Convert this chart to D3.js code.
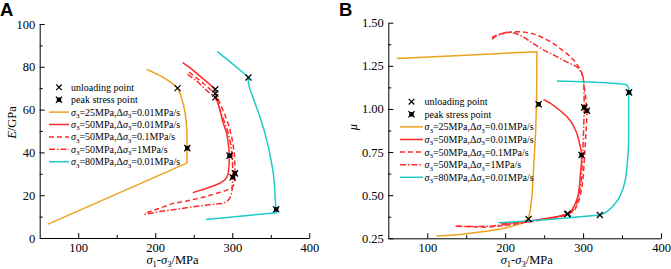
<!DOCTYPE html>
<html>
<head>
<meta charset="utf-8">
<script src="https://cdn.jsdelivr.net/npm/d3@7"></script>
<style>
    body { margin: 0; background: #fff; }
    text { font-family: "Liberation Serif", "Times New Roman", serif; }
</style>
</head>
<body>
<div id="chart"></div>
<script>

// ---- data ----
// panel A: E/GPa vs sigma1-sigma3/MPa
let a25_001 = [[61,6.5],[241,35],[241.3,42],[241,50],[240,55],[238.5,59],[236.5,62.5],[234.5,65],[232,67.7],[229,70],[222,72.3],[215,74],[208,75.5],[202,76.6],[195,77.8],[189,78.8]];
let a50_001 = [[235.6,81.9],[247,79],[257,76],[270,72],[277.6,69.5],[280,65],[284,59.8],[288,54],[292.8,48.9],[294.5,45],[295.5,42],[296.1,38.5],[295.8,34],[294.8,30.2],[293,28.5],[290,27],[284,25.6],[275,24.3],[265,23],[248.6,21.2]];
let a50_01 = [[244,77.5],[260,73],[273,69],[278,67.5],[284,63],[290,58],[296,52],[300,46],[302.5,40],[303.5,34],[303.5,30.2],[303,26],[301.5,24.5],[299,23.3],[290,22],[265,19.3],[240,17.2],[223,16.2],[205,13.8],[186,11.5]];
let a50_1 = [[242,76.5],[255,73],[268,68.5],[278,65.7],[283,61],[288,56],[294,50],[298,44],[300,38],[300.5,33],[300.5,28.4],[300,23],[298.5,20],[296,18.2],[292,16.8],[288,16.2],[270,15.5],[249,14.6],[230,13.5],[210,12.6],[185,11]];
let a80_001 = [[280.6,87.1],[300,81.5],[315,77],[320.8,75.1],[320.8,73],[322.5,70],[325,67.6],[330,62.5],[336,56.7],[342,49.5],[346.8,42.7],[350.5,36],[353.3,30.2],[355,24],[355.8,18],[356.6,13.4],[357.7,11.8],[310,10.2],[266,8.7]];
let unloadA = [[229,70],[278,69.5],[278,67.5],[278,65.7],[321,75]];
let peakA = [[241.6,42],[296.5,38.5],[303.5,30.2],[300.5,28.4],[357,13.4]];

// panel B: mu vs sigma1-sigma3/MPa
let b25_001 = [[61,1.293],[150,1.312],[240.7,1.332],[240.5,1.15],[240.2,1.027],[239,0.86],[237,0.7],[235.5,0.58],[234.5,0.5],[232.5,0.42],[229.9,0.366],[225,0.348],[221.5,0.337],[213,0.325],[205,0.315],[195.8,0.305],[178,0.292],[160,0.282],[145,0.273],[130,0.268],[112,0.263]];
let b50_001 = [[249.2,1.056],[258,1.033],[265,1.01],[272,0.985],[279.3,0.955],[284,0.93],[288,0.9],[292,0.859],[294.5,0.82],[296.4,0.781],[297.8,0.75],[298.3,0.733],[297.8,0.68],[296.5,0.62],[295.5,0.56],[294.2,0.511],[292.5,0.48],[290,0.45],[285.7,0.414],[280.1,0.389],[270,0.378],[260,0.37],[240,0.356],[220,0.345],[195,0.335]];
let b50_01 = [[183,1.415],[190,1.43],[200,1.44],[210,1.447],[220,1.448],[230,1.442],[240,1.43],[249,1.412],[257.8,1.39],[265,1.37],[272,1.345],[278,1.325],[283.5,1.303],[288,1.283],[292,1.26],[295.5,1.235],[298.6,1.207],[300.5,1.17],[301.5,1.129],[302.5,1.095],[303.5,1.06],[305,0.99],[304.5,0.92],[303.5,0.85],[302.5,0.77],[301.5,0.7],[300,0.6],[298.6,0.549],[296.5,0.5],[294,0.46],[290,0.42],[286.5,0.404],[283,0.395],[277,0.384],[270.7,0.375],[250,0.36],[232,0.346],[200,0.325],[176.5,0.314],[155,0.318],[136,0.32]];
let b50_1 = [[183,1.404],[188,1.422],[195,1.435],[204.2,1.448],[212,1.44],[220,1.425],[226,1.41],[232,1.39],[241,1.365],[250,1.34],[258,1.322],[266.4,1.303],[273,1.287],[280,1.27],[286,1.258],[292,1.245],[296.5,1.222],[299.9,1.187],[301,1.14],[301.2,1.1],[301.5,1.009],[301,0.93],[300.5,0.85],[299.8,0.77],[299,0.7],[298.4,0.64],[297.5,0.58],[296,0.53],[294,0.48],[291.5,0.445],[289,0.42],[284.5,0.402],[280,0.392],[265,0.372],[240,0.352],[210,0.335],[180,0.32],[160,0.318],[136,0.32]];
let b80_001 = [[266.4,1.162],[300,1.158],[330,1.152],[354.2,1.143],[357,1.135],[358.5,1.12],[358.5,1.096],[358.5,0.95],[358.5,0.823],[358,0.76],[357,0.7],[355.8,0.64],[354.2,0.588],[351.5,0.54],[348,0.5],[345,0.475],[341.4,0.453],[337,0.43],[332,0.41],[327,0.395],[322.1,0.385],[260,0.36],[191.4,0.34]];
let unloadB = [[230,0.362],[279.5,0.39],[280.5,0.393],[321.5,0.385]];
let peakB = [[243,1.027],[298,0.733],[305,0.99],[301.5,1.009],[359,1.096]];

// legend / series info
let sigma3 = ["25", "50", "50", "50", "80"];
let rates = ["0.01", "0.01", "0.1", "1", "0.01"];
let colors = ["#eda21f", "#ff2b2b", "#ff2b2b", "#ff2b2b", "#1fcaca"];
let dashes = [null, null, "5,3", "6,2,1.5,2", null];

// ticks
let xMajor = [100, 200, 300, 400];
let xMinor = [150, 250, 350];
let yMajorA = [0, 20, 40, 60, 80, 100];
let yMinorA = [10, 30, 50, 70, 90];
let yMajorB = [0.25, 0.5, 0.75, 1.0, 1.25, 1.5];
let yMinorB = [0.375, 0.625, 0.875, 1.125, 1.375];


const svg = d3.select("#chart").append("svg")
    .attr("width", 671)
    .attr("height", 269);

// small helper for sigma / subscripts inside one text element
function richText(sel, parts, subSize, subDy) {
    let shifted = false;
    parts.forEach(p => {
        let ts = sel.append("tspan").text(p[0]);
        let want = p[1] === "sub";
        if (want !== shifted) {
            ts.attr("dy", want ? subDy : -subDy);
            shifted = want;
        }
        if (p[1] === "i") ts.attr("font-style", "italic");
        if (want) ts.attr("font-size", subSize);
    });
}

function drawCross(g, cx, cy, s) {
    g.append("path")
        .attr("d", `M${cx - s},${cy - s}L${cx + s},${cy + s}M${cx - s},${cy + s}L${cx + s},${cy - s}`)
        .attr("stroke", "#000")
        .attr("stroke-width", 1.2)
        .attr("fill", "none");
}

function drawPeak(g, cx, cy) {
    g.append("rect")
        .attr("x", cx - 2.2).attr("y", cy - 2.2)
        .attr("width", 4.4).attr("height", 4.4)
        .attr("fill", "#000");
    drawCross(g, cx, cy, 3.1);
}

function drawPanel(p) {
    let g = svg.append("g");

    let x = d3.scaleLinear().domain([50, 400]).range([p.left, p.right]);
    let y = d3.scaleLinear().domain(p.yDomain).range([p.bottom, p.top]);

    // axes, ticks pointing inward
    g.append("g")
        .attr("transform", "translate(0," + p.bottom + ")")
        .call(d3.axisBottom(x).tickValues(xMajor).tickSize(-5).tickSizeOuter(0).tickPadding(5).tickFormat(d3.format("d")));
    g.append("g")
        .attr("transform", "translate(0," + p.bottom + ")")
        .call(d3.axisBottom(x).tickValues(xMinor).tickSize(-3).tickSizeOuter(0).tickFormat(""))
        .select(".domain").remove();

    g.append("g")
        .attr("transform", "translate(" + p.left + ",0)")
        .call(d3.axisLeft(y).tickValues(p.yMajor).tickSize(-5).tickSizeOuter(0).tickPadding(4.5).tickFormat(p.yFormat));
    g.append("g")
        .attr("transform", "translate(" + p.left + ",0)")
        .call(d3.axisLeft(y).tickValues(p.yMinor).tickSize(-3).tickSizeOuter(0).tickFormat(""))
        .select(".domain").remove();

    g.selectAll(".tick text")
        .attr("font-size", 12.5)
        .attr("fill", "#000");
    g.selectAll(".domain, .tick line").attr("stroke", "#000").attr("stroke-width", 1);

    // lines
    let line = d3.line()
        .x(d => x(d[0]))
        .y(d => y(d[1]));

    p.series.forEach((s, i) => {
        g.append("path")
            .datum(s)
            .attr("d", line)
            .attr("fill", "none")
            .attr("stroke", colors[i])
            .attr("stroke-width", 1.5)
            .attr("stroke-linejoin", "round")
            .attr("stroke-dasharray", dashes[i]);
    });

    p.unload.forEach(d => drawCross(g, x(d[0]), y(d[1]), 3));
    p.peak.forEach(d => drawPeak(g, x(d[0]), y(d[1])));

    // axis titles
    let xt = g.append("text")
        .attr("x", p.xTitleX)
        .attr("y", 264)
        .attr("text-anchor", "middle")
        .attr("font-size", 12.5);
    richText(xt, [["σ", "i"], ["1", "sub"], ["-", ""], ["σ", "i"], ["3", "sub"], ["/MPa", ""]], 8.5, 3);

    let yt = g.append("text")
        .attr("transform", "translate(" + p.yTitleX + "," + p.yTitleY + ") rotate(-90)")
        .attr("text-anchor", "middle")
        .attr("font-size", 12.5);
    richText(yt, p.yTitle, 8.5, 3);

    // panel letter
    g.append("text")
        .attr("x", p.letterX)
        .attr("y", 15.5)
        .style("font-family", "'Liberation Sans', Arial, sans-serif")
        .style("font-weight", "bold")
        .style("font-size", "18.5px")
        .text(p.letter);

    // legend
    let lg = g.append("g");
    let rowY = i => p.legY + i * p.legStep;
    let midX = (p.legX0 + p.legX1) / 2;
    drawCross(lg, midX, rowY(0), 2.8);
    drawPeak(lg, midX, rowY(1));
    lg.append("text").attr("x", p.legText).attr("y", rowY(0) + 3.4).attr("font-size", 10).text("unloading point");
    lg.append("text").attr("x", p.legText).attr("y", rowY(1) + 3.4).attr("font-size", 10).text("peak stress point");

    sigma3.forEach((s, i) => {
        let yy = rowY(i + 2);
        lg.append("line")
            .attr("x1", p.legX0).attr("x2", p.legX1)
            .attr("y1", yy).attr("y2", yy)
            .attr("stroke", colors[i])
            .attr("stroke-width", 1.5)
            .attr("stroke-dasharray", dashes[i]);
        let t = lg.append("text")
            .attr("x", p.legText)
            .attr("y", yy + 3.4)
            .attr("font-size", 10);
        richText(t, [["σ", "i"], ["3", "sub"], ["=" + s + "MPa,Δ", ""], ["σ", "i"], ["3", "sub"], ["=" + rates[i] + "MPa/s", ""]], 7, 2.5);
    });
}

drawPanel({
    letter: "A", letterX: 0,
    left: 39.7, right: 309.3, top: 24, bottom: 238,
    yDomain: [0, 100], yMajor: yMajorA, yMinor: yMinorA, yFormat: d3.format("d"),
    series: [a25_001, a50_001, a50_01, a50_1, a80_001],
    unload: unloadA, peak: peakA,
    xTitleX: 172.5,
    yTitle: [["E", "i"], ["/GPa", ""]], yTitleX: 16, yTitleY: 122.5,
    legX0: 49, legX1: 69, legText: 71, legY: 87.3, legStep: 12.4
});

drawPanel({
    letter: "B", letterX: 339,
    left: 388.3, right: 661, top: 22.7, bottom: 238.3,
    yDomain: [0.25, 1.5], yMajor: yMajorB, yMinor: yMinorB, yFormat: d3.format(".2f"),
    series: [b25_001, b50_001, b50_01, b50_1, b80_001],
    unload: unloadB, peak: peakB,
    xTitleX: 526.7,
    yTitle: [["μ", "i"]], yTitleX: 356.5, yTitleY: 127,
    legX0: 400, legX1: 423, legText: 424.5, legY: 101.7, legStep: 12.6
});

</script>
</body>
</html>
